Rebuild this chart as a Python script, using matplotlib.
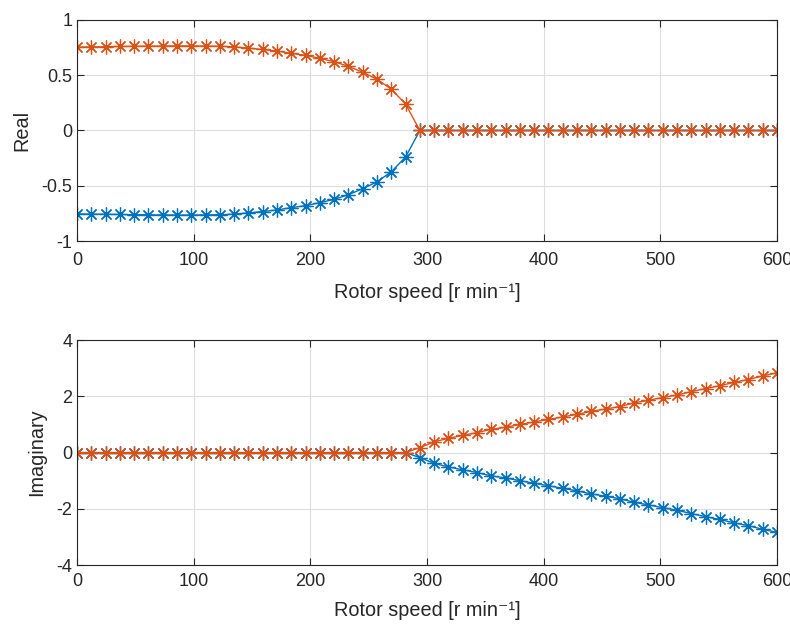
import matplotlib.pyplot as plt
import numpy as np

plt.rcParams['font.family'] = ['Liberation Sans', 'DejaVu Sans']

# rotor speed samples (50 points, 0..600 r/min)
speed = np.linspace(0, 600, 50)

# real part of the upper eigenvalue (the lower one is the mirror)
real_pos = [0.755, 0.756, 0.758, 0.760, 0.762, 0.763, 0.764, 0.765, 0.765, 0.764,
            0.762, 0.757, 0.745, 0.733, 0.719, 0.698, 0.680, 0.653, 0.623, 0.580,
            0.527, 0.464, 0.374, 0.240] + [0.0] * 26

# imaginary part of the upper eigenvalue
imag_pos = [0.0] * 24 + [0.18, 0.38, 0.51, 0.61, 0.71, 0.83, 0.90, 1.00, 1.09, 1.18,
                         1.27, 1.36, 1.47, 1.55, 1.64, 1.77, 1.86, 1.96, 2.05, 2.17,
                         2.28, 2.38, 2.50, 2.60, 2.73, 2.84]

real_pos = np.array(real_pos)
imag_pos = np.array(imag_pos)

blue = '#0072BD'
orange = '#D95319'
dark = '#262626'
asterisk = (8, 2, 0)

fig = plt.figure(figsize=(7.9, 6.28), dpi=100)
ax1 = fig.add_axes([0.0975, 0.6162, 0.886, 0.352])
ax2 = fig.add_axes([0.0975, 0.1003, 0.886, 0.358])

for ax, vals, lim, ticks, ylab, xpad, lpad in [
        (ax1, real_pos, (-1, 1), [-1, -0.5, 0, 0.5, 1], 'Real', 8, 10),
        (ax2, imag_pos, (-4, 4), [-4, -2, 0, 2, 4], 'Imaginary', 6, 8)]:
    ax.plot(speed, -vals, color=blue, marker=asterisk, markersize=10,
            markeredgewidth=0.9, lw=1)
    ax.plot(speed, vals, color=orange, marker=asterisk, markersize=10,
            markeredgewidth=0.9, lw=1)
    ax.set_xlim(0, 600)
    ax.set_ylim(*lim)
    ax.set_xticks(range(0, 601, 100))
    ax.set_yticks(ticks)
    ax.set_yticklabels([f'{t:g}' for t in ticks])
    ax.grid(True, color='#dddddd', lw=0.8)
    ax.set_axisbelow(True)
    ax.tick_params(direction='in', top=True, right=True, labelsize=13,
                   colors=dark, length=5)
    ax.tick_params(axis='x', pad=xpad)
    for s in ax.spines.values():
        s.set_color(dark)
        s.set_linewidth(0.8)
    ax.set_xlabel('Rotor speed [r min\u207b\u00b9]', fontsize=14.3, color=dark,
                  labelpad=lpad)
    ax.set_ylabel(ylab, fontsize=14.3, color=dark, labelpad=7)

fig.savefig('out.png', dpi=100)
